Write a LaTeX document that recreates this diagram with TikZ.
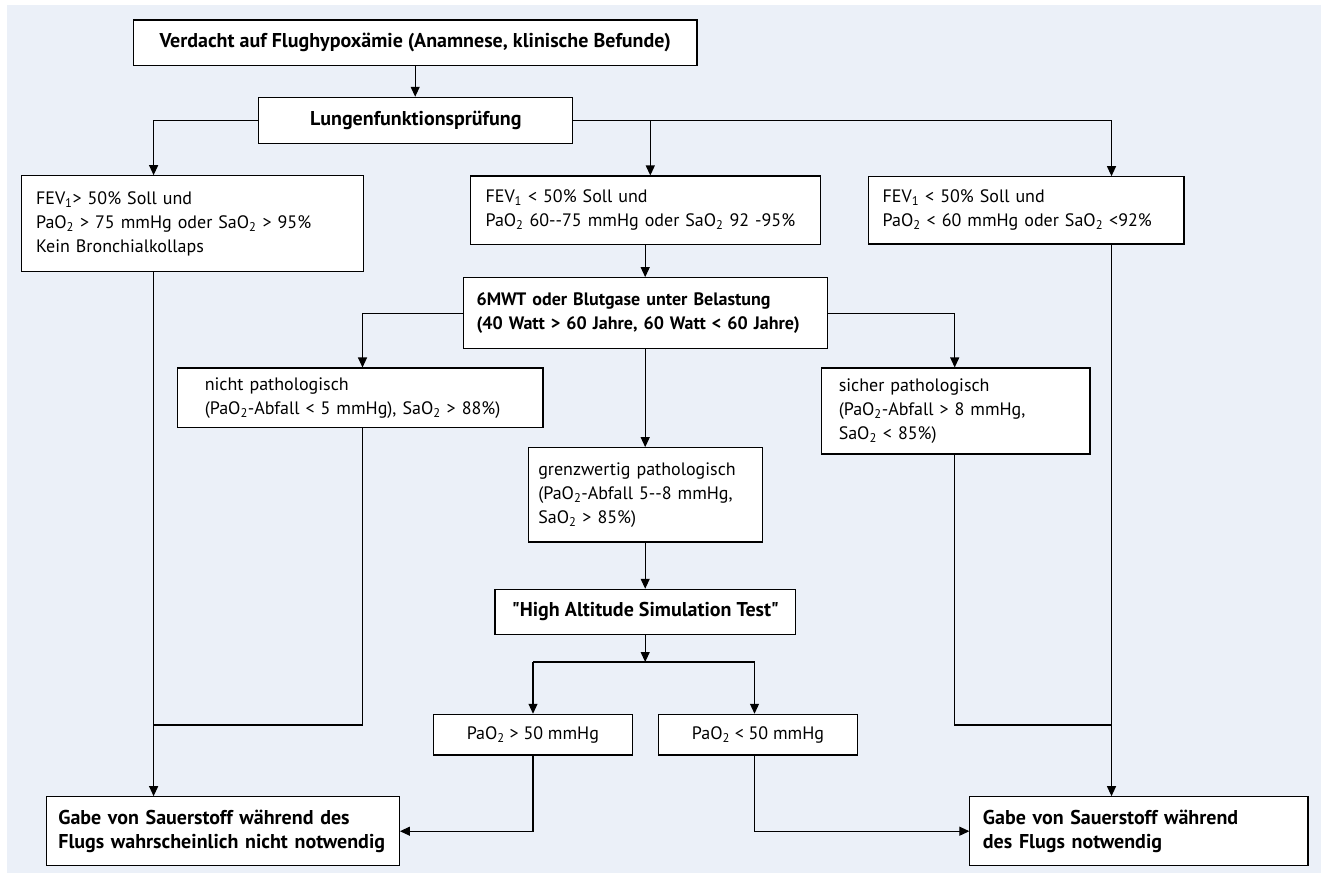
\documentclass[tikz,border=0pt]{standalone}
\usepackage{fontspec}
\setmainfont{PT Sans}[Ligatures=TeXOff]
\usetikzlibrary{arrows.meta,calc}
\definecolor{bg}{RGB}{235,240,248}
\tikzset{
 box/.style={draw=black, fill=white, line width=1.1pt, inner sep=0pt, font=\fontsize{18}{24}\selectfont},
 bbox/.style={box, font=\fontsize{20}{24}\selectfont\bfseries},
 arr/.style={line width=1.1pt, -{Triangle[length=10pt,width=9pt]}},
 ln/.style={line width=1.1pt},
}
\begin{document}
\begin{tikzpicture}[x=1pt,y=-1pt]
\useasboundingbox (0,0) rectangle (1321,873);
\fill[bg] (7,5) rectangle (1321,873);
% nodes
\node[bbox, minimum width=563.6pt, minimum height=45.3pt] (b1) at (415.2,42.65) {Verdacht auf Flughypoxämie (Anamnese, klinische Befunde)};
\node[bbox, minimum width=314pt, minimum height=46pt] (b2) at (415.8,120.3) {Lungenfunktionsprüfung};
\node[box, align=left, minimum width=341.3pt, minimum height=96pt, text width=313pt] (b3) at (192.55,223.7)
 {\mbox{FEV\textsubscript{1}> 50\% Soll und}\\\mbox{PaO\textsubscript{2} > 75 mmHg oder SaO\textsubscript{2} > 95\%}\\\mbox{Kein Bronchialkollaps}};
\node[box, align=left, minimum width=350.1pt, minimum height=68.3pt, text width=320pt] (b4) at (645.55,210.15)
 {\mbox{FEV\textsubscript{1} < 50\% Soll und}\\\mbox{PaO\textsubscript{2} 60-{}-75 mmHg oder SaO\textsubscript{2} 92 -95\%}};
\node[box, align=left, minimum width=315.7pt, minimum height=67.3pt, text width=287pt] (b5) at (1026.15,210.35)
 {\mbox{FEV\textsubscript{1} < 50\% Soll und}\\\mbox{PaO\textsubscript{2} < 60 mmHg oder SaO\textsubscript{2} <92\%}};
\node[bbox, font=\fontsize{18}{24}\selectfont\bfseries, align=left, minimum width=364.4pt, minimum height=70.6pt, text width=338pt] (b6) at (645.6,313)
 {\mbox{6MWT oder Blutgase unter Belastung}\\\mbox{(40 Watt > 60 Jahre, 60 Watt < 60 Jahre)}};
\node[box, align=left, minimum width=365.4pt, minimum height=59.7pt, text width=311pt] (b7) at (360.3,397.85)
 {\mbox{nicht pathologisch}\\\mbox{(PaO\textsubscript{2}-Abfall < 5 mmHg), SaO\textsubscript{2} > 88\%)}};
\node[box, align=left, minimum width=234.2pt, minimum height=94.3pt, text width=214pt] (b8) at (645.3,494.85)
 {\mbox{grenzwertig pathologisch}\\\mbox{(PaO\textsubscript{2}-Abfall 5-{}-8 mmHg,}\\\mbox{SaO\textsubscript{2} > 85\%)}};
\node[box, align=left, minimum width=268.5pt, minimum height=86pt, text width=234pt] (bS) at (955.75,411)
 {\mbox{sicher pathologisch}\\\mbox{(PaO\textsubscript{2}-Abfall > 8 mmHg,}\\\mbox{SaO\textsubscript{2} < 85\%)}};
\node[bbox, minimum width=300.7pt, minimum height=45pt] (b9) at (645.35,611.8) {"High Altitude Simulation Test"};
\node[box, minimum width=198.7pt, minimum height=40.7pt] (b10) at (532.85,734.65) {PaO\textsubscript{2} > 50 mmHg};
\node[box, minimum width=198.6pt, minimum height=40.7pt] (b11) at (758,734.65) {PaO\textsubscript{2} < 50 mmHg};
\node[bbox, align=left, minimum width=353.1pt, minimum height=69pt, text width=329pt] (bL) at (222.85,831.2)
 {\mbox{Gabe von Sauerstoff während des}\\\mbox{Flugs wahrscheinlich nicht notwendig}};
\node[bbox, align=left, minimum width=338.1pt, minimum height=69pt, text width=312pt] (bR) at (1138.95,831.2)
 {\mbox{Gabe von Sauerstoff während}\\\mbox{des Flugs notwendig}};
% helper coordinates
\coordinate (xL) at (153.6,0);
\coordinate (xA) at (650.3,0);
\coordinate (xR) at (1111.5,0);
\coordinate (xC) at (645.2,0);
\coordinate (x7) at (362.5,0);
\coordinate (xS) at (954.7,0);
\coordinate (x10) at (533,0);
\coordinate (x11) at (754.5,0);
\coordinate (ys) at (0,725);
\coordinate (ysplit) at (0,662);
\coordinate (y6) at (0,313.3);
% connectors
\draw[arr] (b1.south) -- (b1.south |- b2.north);
\draw[arr] (b2.west) -| (xL |- b3.north);
\draw[arr] (b2.east) -| (xR |- b5.north);
\draw[arr] (xA |- b2.east) -- (xA |- b4.north);
\draw[arr] (xC |- b4.south) -- (xC |- b6.north);
\draw[arr] (xL |- b3.south) -- (xL |- bL.north);
\draw[arr] (xR |- b5.south) -- (xR |- bR.north);
\draw[arr] (b6.west |- y6) -| (x7 |- b7.north);
\draw[arr] (b6.east |- y6) -| (xS |- bS.north);
\draw[ln] (x7 |- b7.south) |- (xL |- ys);
\draw[ln] (xS |- bS.south) |- (xR |- ys);
\draw[arr] (xC |- b6.south) -- (xC |- b8.north);
\draw[arr] (xC |- b8.south) -- (xC |- b9.north);
\draw[arr] (xC |- b9.south) -- (xC |- ysplit);
\draw[ln] (x10 |- ysplit) -- (x11 |- ysplit);
\draw[arr] (x10 |- ysplit) -- (x10 |- b10.north);
\draw[arr] (x11 |- ysplit) -- (x11 |- b11.north);
\draw[arr] (x10 |- b10.south) |- (bL.east);
\draw[arr] (x11 |- b11.south) |- (bR.west);
\end{tikzpicture}
\end{document}
